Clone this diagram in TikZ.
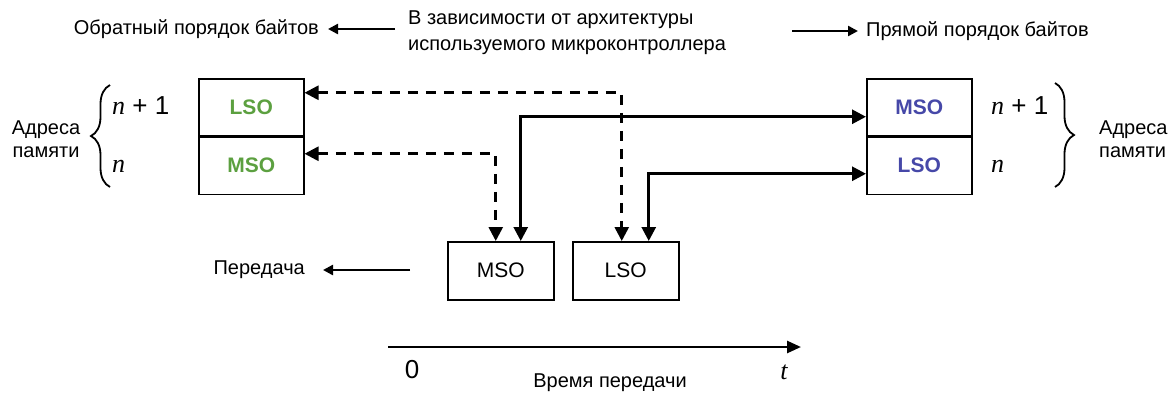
\documentclass[tikz,border=0pt]{standalone}
\usepackage{fontspec}
\setmainfont{Liberation Sans}
\newfontfamily\serifit{Liberation Serif}
\usetikzlibrary{arrows.meta,decorations.pathreplacing}
\definecolor{lgreen}{RGB}{92,160,64}
\definecolor{lblue}{RGB}{70,72,168}
\tikzset{
  txt/.style={inner sep=0pt,font=\fontsize{20}{23}\selectfont},
  cell/.style={draw,line width=1.5pt,minimum width=105pt,minimum height=57pt,inner sep=0pt,font=\fontsize{21}{23}\selectfont\bfseries},
  bcell/.style={draw,line width=1.5pt,minimum width=106pt,minimum height=58pt,inner sep=0pt,font=\fontsize{21}{23}\selectfont},
  solidarr/.style={line width=2.8pt,{Triangle[length=14pt,width=14pt]}-{Triangle[length=14pt,width=14pt]}},
  dasharr/.style={line width=2.6pt,dash pattern=on 10pt off 8pt,{Triangle[length=14pt,width=14pt]}-{Triangle[length=14pt,width=14pt]}},
  legarr/.style={line width=2.4pt,-{Triangle[length=10pt,width=10pt]}},
  bracestyle/.style={line width=1.8pt,decorate,decoration={brace,amplitude=19pt}},
  nlab/.style={inner sep=0pt,font=\fontsize{26}{28}\selectfont},
  nit/.style={font=\serifit\itshape\fontsize{26}{28}\selectfont},
}
\begin{document}
\begin{tikzpicture}[x=1pt,y=-1pt]
\useasboundingbox (0,0) rectangle (1171,392);
% top legend
\node[txt,anchor=east] (rev) at (319,29) {Обратный порядок байтов};
\node[txt,anchor=west,align=left,font=\fontsize{20}{26}\selectfont] (dep) at (408,33) {В зависимости от архитектуры\\используемого микроконтроллера};
\node[txt,anchor=west] (dir) at (866,31) {Прямой порядок байтов};
\coordinate (revs) at (395,29);
\coordinate (dirs) at (792,31);
\draw[legarr] (revs) -- (rev.east -| 328,0);
\draw[legarr] (dirs) -- (dir.west -| 858,0);
% left memory
\node[cell,text=lgreen,anchor=north west] (lhi) at (198,78) {LSO};
\node[cell,text=lgreen,anchor=north] (llo) at (lhi.south) {MSO};
% right memory
\node[cell,text=lblue,anchor=north west] (rhi) at (866,78) {MSO};
\node[cell,text=lblue,anchor=north] (rlo) at (rhi.south) {LSO};
% left labels
\node[nlab,anchor=west] (ln1) at (112,106) {{\serifit\itshape n} + 1};
\node[nlab,anchor=west] (ln) at (112,166) {{\serifit\itshape n}};
\coordinate (lbb) at (110,187);
\coordinate (lbt) at (110,85);
\draw[bracestyle] (lbb) -- (lbt);
\node[txt,align=center] (laddr) at (46,139) {Адреса\\памяти};
% right labels
\node[nlab,anchor=west] (rn1) at (991,106) {{\serifit\itshape n} + 1};
\node[nlab,anchor=west] (rn) at (991,166) {{\serifit\itshape n}};
\coordinate (rbt) at (1055,83);
\coordinate (rbb) at (1055,187);
\draw[bracestyle] (rbt) -- (rbb);
\node[txt,align=left,anchor=west] (raddr) at (1099,139) {Адреса\\памяти};
% transmission boxes
\node[bcell,anchor=north west] (bm) at (447,241) {MSO};
\node[bcell,anchor=north west] (bl) at (572,241) {LSO};
% connectors
\draw[dasharr] ([yshift=14.5pt]lhi.east) -| ([xshift=-4pt]bl.north);
\draw[dasharr] ([yshift=12pt]llo.east) -| ([xshift=-5pt]bm.north);
\draw[solidarr] ([yshift=-9.5pt]rhi.west) -| ([xshift=20pt]bm.north);
\draw[solidarr] ([yshift=-8pt]rlo.west) -| ([xshift=23pt]bl.north);
% transmission
\node[txt,anchor=east] (tr) at (305,270) {Передача};
\coordinate (trs) at (410,270);
\draw[legarr] (trs) -- (tr.east -| 323,0);
% time axis
\coordinate (ax0) at (388,347);
\coordinate (ax1) at (801,347);
\draw[line width=2.6pt,-{Triangle[length=14pt,width=12pt]}] (ax0) -- (ax1);
\node[nlab] (zero) at (412,370) {0};
\node[nit,inner sep=0pt] (tt) at (784,372) {t};
\node[txt] (tlab) at (610,383) {Время передачи};
\end{tikzpicture}
\end{document}
